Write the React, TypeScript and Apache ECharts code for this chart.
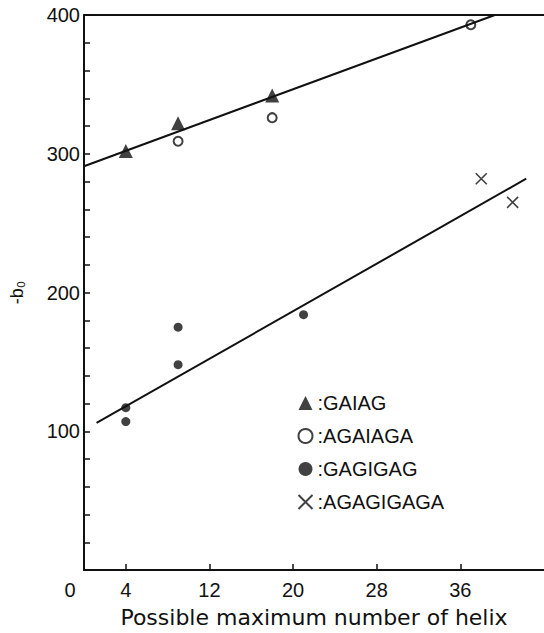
import React, { useEffect, useRef } from "react";
import * as echarts from "echarts";

const xTickValues = [4, 12, 20, 28, 36];
const xLabelValues = [0, 4, 12, 20, 28, 36];
const yLabelValues = [100, 200, 300, 400];

const gaiag = [[4, 302], [9, 322], [18, 342]];
const agaiaga = [[9, 309], [18, 326], [37, 393]];
const gagigag = [[4, 117], [4, 107], [9, 175], [9, 148], [21, 184]];
const agagigaga = [[38, 282], [41, 265]];

const upperFit = [[0, 291], [39.3, 400]];
const lowerFit = [[1.2, 106], [42.3, 282]];

const seriesNames = ["GAIAG", "AGAIAGA", "GAGIGAG", "AGAGIGAGA"];

const INK = "#111";
const FONT = "'Liberation Sans', Arial, sans-serif";

export default function App() {
  const ref = useRef<HTMLDivElement>(null);
  useEffect(() => {
    if (!ref.current) return;
    const chart = echarts.init(ref.current, null, { renderer: "svg" });
    chart.setOption({
      animation: false,
      backgroundColor: "#fff",
      grid: { left: 81, top: 15, right: 0, bottom: 60, containLabel: false },
      legend: {
        data: seriesNames,
        orient: "vertical",
        left: 291,
        top: 388,
        itemWidth: 14,
        itemHeight: 14,
        itemGap: 13,
        formatter: (n: string) => ":" + n,
        textStyle: { fontSize: 20, lineHeight: 20, color: INK, fontFamily: FONT },
      },
      xAxis: [
        {
          type: "value",
          min: 0,
          max: 44,
          name: "Possible maximum number of helix",
          nameLocation: "middle",
          nameGap: 36,
          nameTextStyle: { fontSize: 22, color: INK, fontFamily: "'DejaVu Sans', sans-serif" },
          axisLine: { show: true, lineStyle: { color: INK, width: 2 } },
          axisTick: { show: true, inside: true, length: 6, customValues: xTickValues, lineStyle: { color: INK, width: 1.5 } },
          axisLabel: {
            show: true,
            customValues: xLabelValues,
            margin: 10,
            fontSize: 20,
            color: INK,
            fontFamily: FONT,
            formatter: (v: number) => (v === 0 ? "{z|0}" : String(v)),
            rich: { z: { fontSize: 20, color: INK, fontFamily: FONT, padding: [0, 28, 0, 0] } },
          },
          splitLine: { show: false },
        },
        {
          type: "value",
          position: "top",
          min: 0,
          max: 44,
          axisLine: { show: true, onZero: false, lineStyle: { color: INK, width: 2 } },
          axisTick: { show: false },
          axisLabel: { show: false },
          splitLine: { show: false },
        },
      ],
      yAxis: {
        type: "value",
        min: 0,
        max: 400,
        interval: 20,
        name: "-b₀",
        nameLocation: "middle",
        nameGap: 58,
        nameRotate: 90,
        nameTextStyle: { fontSize: 18, color: INK, fontFamily: FONT },
        axisLine: { show: true, lineStyle: { color: INK, width: 2 } },
        axisTick: { show: true, inside: true, length: 6, lineStyle: { color: INK, width: 1.5 } },
        axisLabel: {
          customValues: yLabelValues,
          margin: 4,
          fontSize: 20,
          color: INK,
          fontFamily: FONT,
        },
        splitLine: { show: false },
      },
      series: [
        {
          type: "line",
          data: upperFit,
          symbol: "none",
          lineStyle: { color: INK, width: 2 },
          silent: true,
        },
        {
          type: "line",
          data: lowerFit,
          symbol: "none",
          lineStyle: { color: INK, width: 2 },
          silent: true,
        },
        {
          name: seriesNames[0],
          type: "scatter",
          data: gaiag,
          symbol: "triangle",
          symbolSize: 14,
          itemStyle: { color: INK },
        },
        {
          name: seriesNames[1],
          type: "scatter",
          data: agaiaga,
          symbol: "emptyCircle",
          symbolSize: 9,
          itemStyle: { color: INK, borderColor: INK, borderWidth: 1.6 },
        },
        {
          name: seriesNames[2],
          type: "scatter",
          data: gagigag,
          symbol: "circle",
          symbolSize: 9,
          itemStyle: { color: INK },
        },
        {
          name: seriesNames[3],
          type: "scatter",
          data: agagigaga,
          symbol: "path://M0,0L10,10M10,0L0,10",
          symbolSize: 11,
          itemStyle: { color: "none", borderColor: INK, borderWidth: 1.6 },
        },
      ],
    });
    return () => chart.dispose();
  }, []);
  return <div ref={ref} style={{ width: 544, height: 633, position: "absolute", left: 0, top: 0 }} />;
}
